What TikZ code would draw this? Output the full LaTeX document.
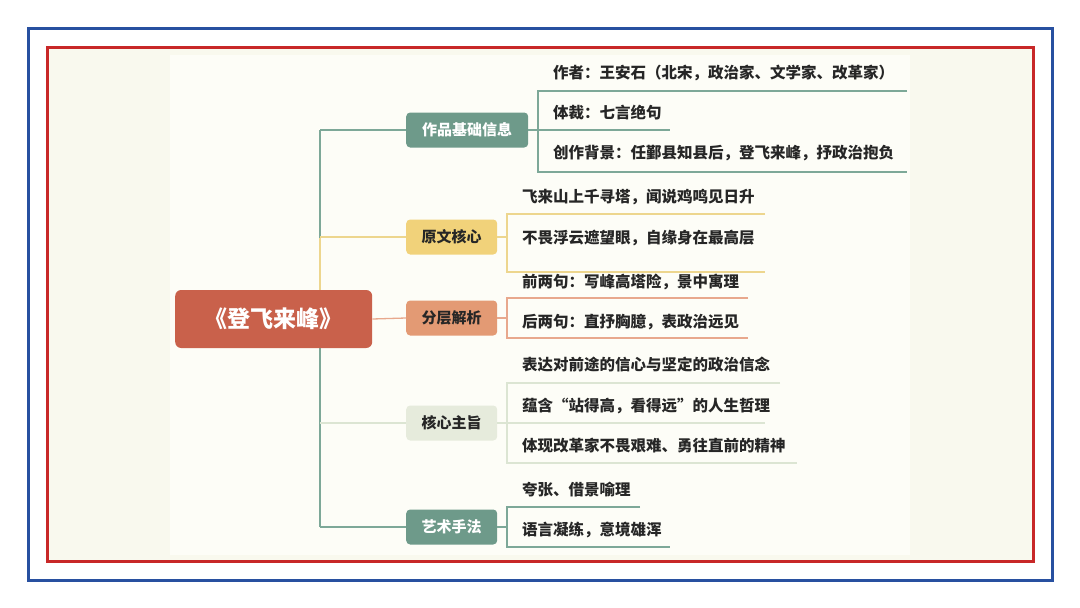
\documentclass[tikz,border=0pt]{standalone}
\usepackage{fontspec}
\setmainfont{Noto Sans CJK SC}
\begin{document}
\begin{tikzpicture}[x=1pt,y=-1pt,
  lf/.style={anchor=west,font=\fontsize{15.5}{17}\selectfont\bfseries,text=black!85,inner sep=0pt},
  br/.style={rounded corners=4pt,minimum height=35pt,font=\fontsize{15}{17}\selectfont\bfseries,inner sep=0pt,anchor=west},
  ln/.style={line width=1.3pt}]
\definecolor{gr}{HTML}{6E9A8A}\definecolor{grl}{HTML}{7DA898}
\definecolor{ye}{HTML}{F1D27A}\definecolor{yel}{HTML}{EDD68E}
\definecolor{or}{HTML}{E39A74}\definecolor{orl}{HTML}{E8A88D}
\definecolor{lg}{HTML}{E6EBDC}\definecolor{lgl}{HTML}{DCE5D3}
\definecolor{rt}{HTML}{C9614B}
\definecolor{bb}{HTML}{2850A0}\definecolor{rr}{HTML}{C82828}
\definecolor{cr1}{HTML}{F9F9EE}\definecolor{cr2}{HTML}{FDFDF7}
\useasboundingbox (0,0) rectangle (1080,608);
\fill[white] (0,0) rectangle (1080,608);
\draw[line width=3pt,bb] (28,28) rectangle (1052,580);
\fill[cr1] (48,48) rectangle (1032,560);
\fill[cr2] (170,55) rectangle (910,555);
\draw[line width=3pt,rr] (47,47) rectangle (1033,561);
% trunk
\draw[ln,grl] (320,130) -- (320,238);
\draw[ln,yel] (320,238) -- (320,300);
\draw[ln,grl] (320,340) -- (320,527);
\node[rounded corners=6pt,fill=rt,minimum width=197pt,minimum height=58pt,text=white,font=\fontsize{23}{26}\selectfont\bfseries,anchor=west] (root) at (175,319) {《登飞来峰》};
% branch nodes
\node[br,fill=gr,text=white,minimum width=122pt] (b1) at (406,130) {作品基础信息};
\node[br,fill=ye,text=black!85,minimum width=91pt] (b2) at (406,237) {原文核心};
\node[br,fill=or,text=black!85,minimum width=91pt] (b3) at (406,318) {分层解析};
\node[br,fill=lg,text=black!85,minimum width=91pt] (b4) at (406,423) {核心主旨};
\node[br,fill=gr,text=white,minimum width=91pt] (b5) at (406,527) {艺术手法};
\coordinate (t1) at (320,130);\coordinate (t2) at (320,237);\coordinate (t4) at (320,423);\coordinate (t5) at (320,527);
\draw[ln,grl] (t1) -- (b1.west);
\draw[ln,yel] (t2) -- (b2.west);
\draw[ln,orl] (root.east) -- (b3.west);
\draw[ln,lgl] (t4) -- (b4.west);
\draw[ln,grl] (t5) -- (b5.west);
% group 1
\coordinate (c1) at (538,130);
\draw[ln,grl] (b1.east) -- (c1);
\draw[ln,grl] (907,91) -- (538,91) -- (538,172) -- (907,172);
\draw[ln,grl] (538,130) -- (670,130);
\node[lf] (l11) at (553,73) {作者：王安石（北宋，政治家、文学家、改革家）};
\node[lf] (l12) at (553,113) {体裁：七言绝句};
\node[lf] (l13) at (553,153) {创作背景：任鄞县知县后，登飞来峰，抒政治抱负};
% group 2
\coordinate (c2) at (507,237);
\draw[ln,yel] (b2.east) -- (c2);
\draw[ln,yel] (765,214) -- (507,214) -- (507,272) -- (765,272);
\node[lf] (l21) at (522,197) {飞来山上千寻塔，闻说鸡鸣见日升};
\node[lf] (l22) at (522,238) {不畏浮云遮望眼，自缘身在最高层};
% group 3
\coordinate (c3) at (507,318);
\draw[ln,orl] (b3.east) -- (c3);
\draw[ln,orl] (748,298) -- (507,298) -- (507,338) -- (748,338);
\node[lf] (l31) at (522,282) {前两句：写峰高塔险，景中寓理};
\node[lf] (l32) at (522,322) {后两句：直抒胸臆，表政治远见};
% group 4
\coordinate (c4) at (507,423);
\draw[ln,lgl] (b4.east) -- (c4);
\draw[ln,lgl] (780,383) -- (507,383) -- (507,463) -- (797,463);
\draw[ln,lgl] (507,423) -- (765,423);
\node[lf] (l41) at (522,365) {表达对前途的信心与坚定的政治信念};
\node[lf] (l42) at (522,406) {蕴含“站得高，看得远”的人生哲理};
\node[lf] (l43) at (522,446) {体现改革家不畏艰难、勇往直前的精神};
% group 5
\coordinate (c5) at (507,527);
\draw[ln,grl] (b5.east) -- (c5);
\draw[ln,grl] (640,507) -- (507,507) -- (507,547) -- (670,547);
\node[lf] (l51) at (522,490) {夸张、借景喻理};
\node[lf] (l52) at (522,530) {语言凝练，意境雄浑};
\end{tikzpicture}
\end{document}
